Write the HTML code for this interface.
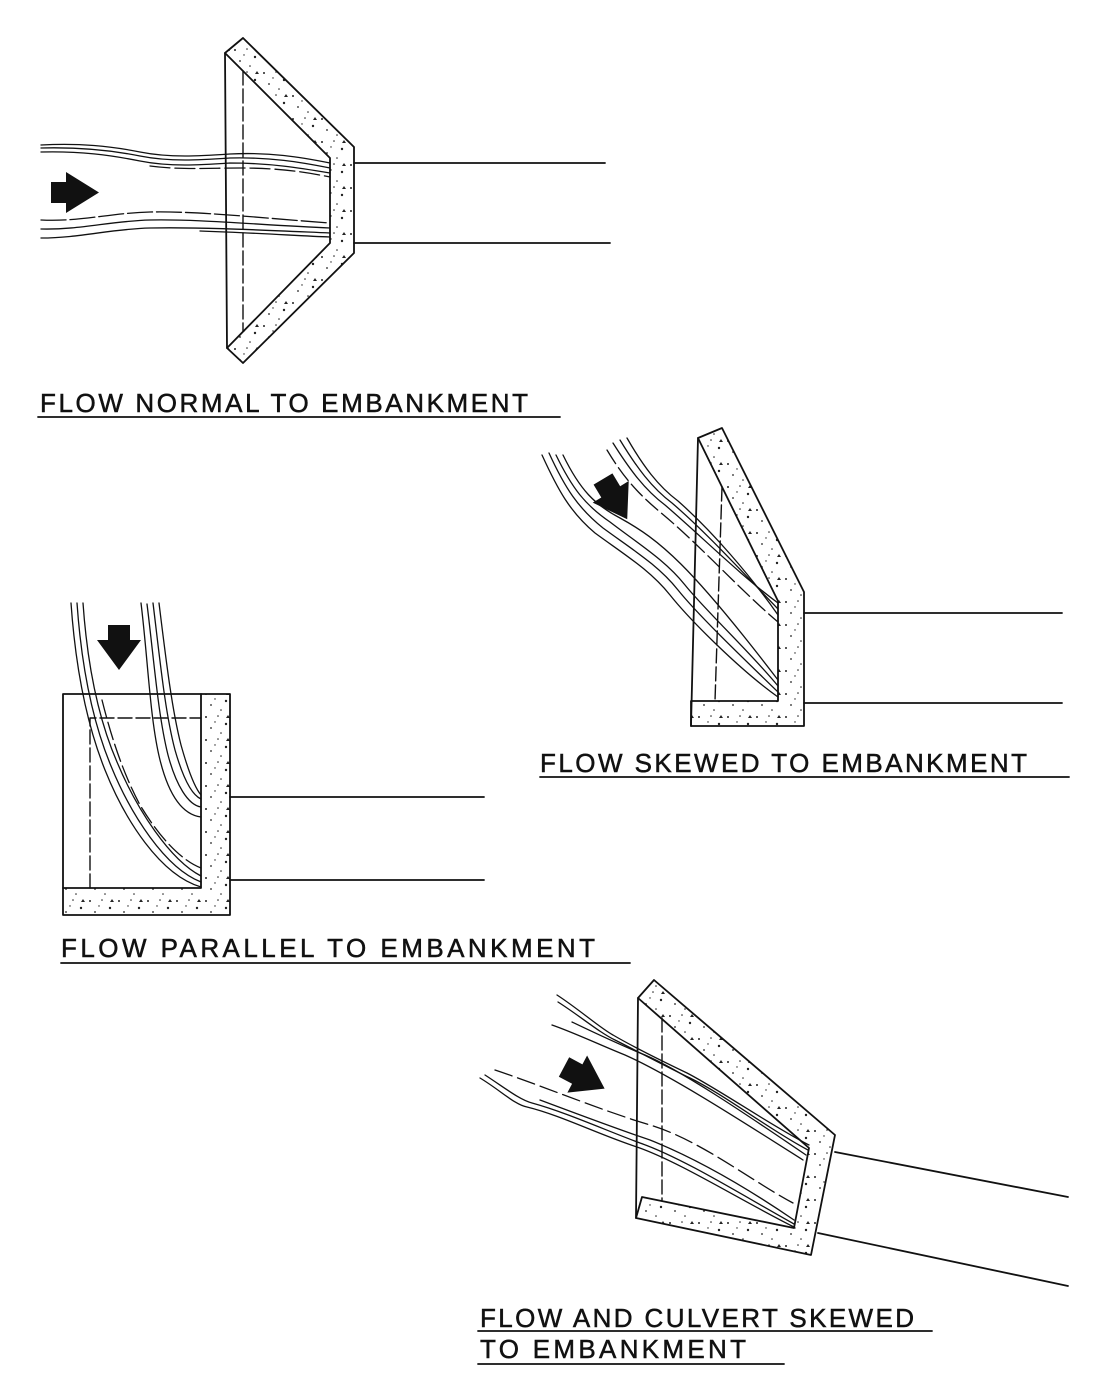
<!DOCTYPE html>
<html><head><meta charset="utf-8"><style>
html,body{margin:0;padding:0;background:#fff;}
svg{display:block;}
text{font-family:"Liberation Sans",sans-serif;font-size:26px;fill:#111;stroke:#111;stroke-width:0.5px;}
</style></head><body>
<svg width="1116" height="1394" viewBox="0 0 1116 1394" xmlns="http://www.w3.org/2000/svg">
<defs>
<pattern id="st" patternUnits="userSpaceOnUse" width="29" height="23">
<rect width="29" height="23" fill="#fff"/>
<circle cx="3" cy="4" r="1" fill="#222"/>
<circle cx="15" cy="3" r="0.8" fill="#222"/>
<circle cx="23" cy="11" r="1.2" fill="#222"/>
<circle cx="8" cy="15" r="0.9" fill="#222"/>
<circle cx="18" cy="20" r="0.8" fill="#222"/>
<circle cx="12" cy="9" r="0.7" fill="#222"/>
<path d="M25,2 l2,3 h-4z" fill="#222"/>
</pattern>
</defs>
<g fill="none" stroke="#111" stroke-width="1.8" stroke-linejoin="round" stroke-linecap="round">

<!-- ===== FIGURE 1 ===== -->
<path d="M225,53 L243,38 L354,147 L354,253 L243,363 L227,348 L330,243 L330,158 Z" fill="url(#st)"/>
<path d="M225,53 L227,348"/>
<path d="M243,71 L243,331" stroke-dasharray="14 4" stroke-width="1.4"/>
<path d="M354,163 L605,163"/>
<path d="M354,243 L610,243"/>
<g stroke-width="1.3">
<path d="M41,145 C80,143 110,146 140,152 C170,158 200,156 230,154 C270,152 300,157 330,163"/>
<path d="M41,148 C80,147 110,150 140,156 C170,162 200,160 230,158 C270,157 300,162 330,168"/>
<path d="M41,152 C80,151 110,155 140,161 C170,167 200,165 230,163 C270,163 300,168 330,173"/>
<path d="M150,166 C180,170 210,168 240,168 C280,168 305,172 330,177" stroke-dasharray="20 5"/>
<path d="M41,220 C80,222 110,213 150,212 C200,211 260,218 330,223" stroke-dasharray="25 4"/>
<path d="M41,229 C80,230 110,221 150,220 C200,219 260,225 330,228"/>
<path d="M41,238 C80,238 110,229 150,228 C200,227 260,230 330,233"/>
<path d="M200,231 C260,233 300,236 330,237"/>
</g>
<path d="M51,182 L66,182 L66,172 L99,192.5 L66,213 L66,203 L51,203 Z" fill="#111" stroke="none"/>

<!-- ===== FIGURE 2 ===== -->
<path d="M698,438 L722,428 L804,592 L804,726 L691,726 L691,701 L778,701 L778,601 Z" fill="url(#st)"/>
<path d="M698,438 L691,726"/>
<path d="M722,487 L715,701" stroke-dasharray="14 4" stroke-width="1.4"/>
<path d="M804,613 L1062,613"/>
<path d="M804,703 L1062,703"/>
<g stroke-width="1.3">
<path d="M613,443 C630,470 645,490 665,505 C700,535 740,575 778,603"/>
<path d="M620,440 C637,468 652,488 672,503 C707,533 745,575 778,609"/>
<path d="M627,438 C643,466 658,486 678,501 C712,531 750,575 778,615"/>
<path d="M607,450 C625,480 640,495 660,512 C700,545 740,590 778,622" stroke-dasharray="16 5"/>
<path d="M542,455 C558,490 570,512 595,533 C625,555 650,570 670,595 C690,620 740,670 778,697"/>
<path d="M549,453 C565,488 578,508 603,528 C633,550 658,565 678,590 C698,615 745,660 778,692"/>
<path d="M556,455 C572,488 585,505 610,522 C640,545 665,560 685,585 C705,610 750,652 778,686"/>
<path d="M563,455 C580,490 595,505 620,518 C660,540 690,565 778,680"/>
</g>
<path d="M0,-11 L15,-11 L15,-21 L47,0 L15,21 L15,11 L0,11 Z" fill="#111" stroke="none" transform="translate(603,479) rotate(59)"/>

<!-- ===== FIGURE 3 ===== -->
<path d="M201,694 L230,694 L230,915 L63,915 L63,888 L201,888 Z" fill="url(#st)"/>
<path d="M63,888 L63,694 L201,694"/>
<path d="M90,888 L90,718 L201,718" stroke-dasharray="14 4" stroke-width="1.4"/>
<path d="M230,797 L484,797"/>
<path d="M230,880 L484,880"/>
<g stroke-width="1.3">
<path d="M71,603 C75,660 85,720 105,770 C125,820 160,875 201,887"/>
<path d="M77,603 C81,660 91,718 111,766 C131,815 165,868 201,882"/>
<path d="M83,603 C87,660 97,716 117,762 C137,810 170,860 201,876"/>
<path d="M102,700 C112,740 124,775 140,805 C158,835 180,860 201,868" stroke-dasharray="18 5"/>
<path d="M141,603 C148,660 150,720 160,760 C170,800 185,815 201,817"/>
<path d="M147,604 C154,660 158,715 168,755 C176,785 188,805 201,807"/>
<path d="M153,603 C160,660 165,712 175,750 C183,778 192,795 201,799"/>
<path d="M159,603 C166,660 172,710 181,745 C188,770 195,788 201,795"/>
</g>
<path d="M0,-11 L15,-11 L15,-22 L45,0 L15,22 L15,11 L0,11 Z" fill="#111" stroke="none" transform="translate(119,625) rotate(90)"/>

<!-- ===== FIGURE 4 ===== -->
<path d="M638,998 L654,980 L835,1135 L811,1255 L636,1218 L642,1197 L794,1228 L809,1148 Z" fill="url(#st)"/>
<path d="M638,998 L636,1218"/>
<path d="M662,1018 L662,1200" stroke-dasharray="14 4" stroke-width="1.4"/>
<path d="M835,1152 L1068,1197"/>
<path d="M818,1233 L1068,1286"/>
<g stroke-width="1.3">
<path d="M557,995 C580,1010 600,1028 613,1035 C630,1045 660,1060 687,1073 C720,1090 770,1125 809,1145"/>
<path d="M558,1002 C580,1016 600,1033 615,1040 C635,1050 665,1066 690,1078 C725,1095 770,1130 808,1150"/>
<path d="M572,1022 C595,1033 620,1045 645,1055 C680,1070 740,1110 806,1155"/>
<path d="M552,1025 C575,1033 600,1045 625,1055 C670,1075 740,1120 803,1160"/>
<path d="M480,1078 C500,1090 515,1105 527,1107 C560,1115 600,1135 637,1147 C680,1162 740,1200 794,1227"/>
<path d="M485,1075 C505,1088 520,1100 532,1103 C565,1112 605,1130 640,1143 C683,1158 742,1195 794,1224"/>
<path d="M540,1100 C580,1115 620,1130 650,1140 C700,1160 750,1190 794,1220"/>
<path d="M495,1070 C540,1085 600,1110 650,1125 C700,1140 750,1180 793,1203" stroke-dasharray="18 6"/>
</g>
<path d="M0,-11 L15,-11 L15,-21 L46,0 L15,21 L15,11 L0,11 Z" fill="#111" stroke="none" transform="translate(564,1067) rotate(28)"/>

<!-- underlines -->
<path d="M38,417 L560,417"/>
<path d="M540,777 L1069,777"/>
<path d="M61,963 L630,963"/>
<path d="M478,1331 L932,1331"/>
<path d="M478,1364 L784,1364"/>
</g>

<text x="40" y="412" textLength="488" lengthAdjust="spacing">FLOW NORMAL TO EMBANKMENT</text>
<text x="540" y="772" textLength="487" lengthAdjust="spacing">FLOW SKEWED TO EMBANKMENT</text>
<text x="61" y="957" textLength="534" lengthAdjust="spacing">FLOW PARALLEL TO EMBANKMENT</text>
<text x="480" y="1327" textLength="434" lengthAdjust="spacing">FLOW AND CULVERT SKEWED</text>
<text x="480" y="1358" textLength="266" lengthAdjust="spacing">TO EMBANKMENT</text>
</svg>
</body></html>
